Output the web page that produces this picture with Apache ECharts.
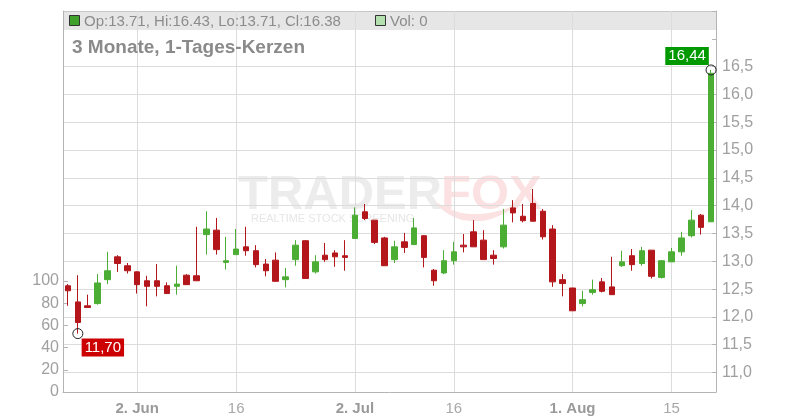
<!DOCTYPE html>
<html><head><meta charset="utf-8">
<script src="https://cdn.jsdelivr.net/npm/echarts@6/dist/echarts.min.js"></script>
<style>html,body{margin:0;padding:0;background:#fff}#c{width:800px;height:420px}</style>
</head><body><div id="c"></div>
<script>
const dates = ['2025-05-22','2025-05-23','2025-05-26','2025-05-27','2025-05-28','2025-05-29','2025-05-30',
'2025-06-02','2025-06-03','2025-06-04','2025-06-05','2025-06-06','2025-06-09','2025-06-10','2025-06-11','2025-06-12','2025-06-13',
'2025-06-16','2025-06-17','2025-06-18','2025-06-19','2025-06-20','2025-06-23','2025-06-24','2025-06-25','2025-06-26','2025-06-27','2025-06-30',
'2025-07-01','2025-07-02','2025-07-03','2025-07-04','2025-07-07','2025-07-08','2025-07-09','2025-07-10','2025-07-11','2025-07-14','2025-07-15',
'2025-07-16','2025-07-17','2025-07-18','2025-07-21','2025-07-22','2025-07-23','2025-07-24','2025-07-25','2025-07-28','2025-07-29','2025-07-30','2025-07-31',
'2025-08-01','2025-08-04','2025-08-05','2025-08-06','2025-08-07','2025-08-08','2025-08-11','2025-08-12','2025-08-13','2025-08-14','2025-08-15',
'2025-08-18','2025-08-19','2025-08-20','2025-08-21'];
const opens  = [12.56,12.27,12.20,12.24,12.67,13.08,12.92,12.81,12.65,12.65,12.56,12.55,12.75,12.74,13.48,13.56,12.98,
13.12,13.26,13.19,12.95,13.02,12.67,13.03,13.37,12.81,13.11,13.15,13.10,13.41,13.89,13.74,13.42,13.03,13.35,13.30,13.46,12.84,12.79,
13.01,13.29,13.53,13.38,13.11,13.26,13.96,13.81,14.04,13.90,13.58,12.67,12.52,12.24,12.44,12.63,12.54,12.92,13.10,12.96,13.20,12.71,
12.99,13.17,13.46,13.83,13.71];
const highs  = [12.59,12.75,12.40,12.77,13.17,13.11,12.97,12.82,12.74,12.95,12.62,12.92,12.77,13.62,13.90,13.78,13.44,
13.58,13.62,13.29,13.04,13.16,12.88,13.38,13.38,13.11,13.33,13.20,13.38,13.97,14.03,13.74,13.44,13.37,13.51,13.78,13.47,12.86,13.20,
13.35,13.49,13.74,13.56,13.20,13.94,14.10,14.03,14.30,13.94,13.65,12.77,12.52,12.47,12.67,12.70,13.08,13.19,13.22,13.26,13.20,13.02,
13.24,13.53,13.92,13.85,16.44];
const lows   = [12.20,11.70,12.16,12.22,12.59,12.81,12.78,12.42,12.19,12.37,12.42,12.40,12.58,12.65,13.12,13.12,12.85,
13.12,13.10,12.89,12.73,12.64,12.53,12.92,12.69,12.78,12.99,12.90,12.83,13.41,13.74,13.31,12.92,12.97,13.15,13.30,12.89,12.56,12.77,
12.94,13.16,13.26,13.03,12.94,13.23,13.70,13.70,13.72,13.39,12.54,12.37,12.11,12.19,12.40,12.44,12.40,12.90,12.83,12.92,12.69,12.69,
12.99,13.10,13.43,13.48,13.71];
const closes = [12.47,11.90,12.17,12.61,12.83,12.96,12.83,12.58,12.55,12.55,12.42,12.59,12.58,12.65,13.58,13.21,13.01,
13.22,13.19,12.94,12.83,12.64,12.72,13.29,12.69,12.99,13.03,13.08,13.07,13.83,13.77,13.34,12.92,13.26,13.25,13.60,13.07,12.65,13.01,
13.17,13.26,13.26,13.03,13.05,13.65,13.87,13.73,13.72,13.44,12.63,12.60,12.11,12.31,12.49,12.46,12.40,12.99,12.94,13.19,12.73,13.01,
13.17,13.42,13.74,13.61,16.38];
const volumes = [0,0,0,0,0,0,0,0,0,0,0,0,0,0,0,0,0,0,0,0,0,0,0,0,0,0,0,0,0,0,0,0,0,0,0,0,0,0,0,0,0,0,0,0,0,0,0,0,0,0,0,0,0,0,0,0,0,0,0,0,0,0,0,0,0,0];
const tickDates  = ['2025-06-02','2025-06-16','2025-07-02','2025-07-16','2025-08-01','2025-08-15'];
const tickLabels = ['2. Jun','16','2. Jul','16','1. Aug','15'];
const monthTicks = ['2025-06-02','2025-07-02','2025-08-01'];
const headerText = 'Op:13.71, Hi:16.43, Lo:13.71, Cl:16.38';
const volText = 'Vol: 0';
const titleText = '3 Monate, 1-Tages-Kerzen';

const candles = dates.map((d, i) => [opens[i], closes[i], lows[i], highs[i]]);
const FONT = 'Liberation Sans, Arial, sans-serif';
const GREEN = '#4bad33', RED = '#b3171b';
const isTick = (idx, val) => tickDates.indexOf(val) >= 0;

const chart = echarts.init(document.getElementById('c'), null, {renderer: 'canvas'});
chart.setOption({
  animation: false,
  backgroundColor: '#ffffff',
  textStyle: {fontFamily: FONT},
  grid: [
    {left: 63, right: 84, top: 11, bottom: 28, containLabel: false},
    {left: 63, right: 84, top: 281, bottom: 28, containLabel: false}
  ],
  xAxis: [
    {type: 'category', gridIndex: 0, data: dates, boundaryGap: true,
     axisLine: {show: true, onZero: false, lineStyle: {color: '#b4b4b4', width: 1}},
     axisTick: {show: false},
     axisLabel: {interval: isTick, margin: 9, fontFamily: 'Liberation Sans Narrow, Liberation Sans, sans-serif',
       formatter: v => { const k = tickDates.indexOf(v); if (k < 0) return ''; return monthTicks.indexOf(v) >= 0 ? '{b|' + tickLabels[k] + '}' : '{n|' + tickLabels[k] + '}'; },
       rich: {b: {fontSize: 15, fontWeight: 'bold', color: '#9a9a9a', fontFamily: 'Liberation Sans Narrow, Liberation Sans, sans-serif'},
              n: {fontSize: 15, color: '#a8a8a8', fontFamily: 'Liberation Sans Narrow, Liberation Sans, sans-serif'}}},
     splitLine: {show: true, interval: isTick, alignWithLabel: true, lineStyle: {color: '#dcdcdc', width: 1}}},
    {type: 'category', gridIndex: 1, data: dates, boundaryGap: true, show: false}
  ],
  yAxis: [
    {type: 'value', gridIndex: 0, position: 'right', min: 10.65, max: 17.5, splitNumber: 14, minInterval: 0.5, maxInterval: 0.5,
     axisLine: {show: true, lineStyle: {color: '#b4b4b4', width: 1}},
     axisTick: {show: true, inside: true, length: 4, lineStyle: {color: '#b4b4b4'}},
     axisLabel: {margin: 6, fontSize: 16, color: '#a0a0a0', fontFamily: FONT,
       formatter: v => (v > 10.99 && v < 16.51) ? v.toFixed(1).replace('.', ',') : ''},
     splitLine: {show: true, showMinLine: false, showMaxLine: true,
       lineStyle: {width: 1, color: ['#dcdcdc','#dcdcdc','#dcdcdc','#dcdcdc','#dcdcdc','#dcdcdc','#dcdcdc','#dcdcdc','#dcdcdc','#dcdcdc','#dcdcdc','#dcdcdc','rgba(0,0,0,0)','#c8c8c8']}}},
    {type: 'value', gridIndex: 0, position: 'left', min: 0, max: 1,
     axisLine: {show: true, onZero: false, lineStyle: {color: '#b4b4b4', width: 1}},
     axisTick: {show: false}, axisLabel: {show: false}, splitLine: {show: false}},
    {type: 'value', gridIndex: 1, position: 'left', min: 0, max: 100, interval: 20,
     axisLine: {show: false},
     axisTick: {show: true, inside: true, length: 5, lineStyle: {color: '#b4b4b4'}},
     axisLabel: {margin: 4, fontSize: 16, color: '#a0a0a0', fontFamily: FONT},
     splitLine: {show: false}}
  ],
  graphic: [
    {type: 'rect', z: -5, silent: true, shape: {x: 63, y: 11, width: 653, height: 19}, style: {fill: '#e6e6e6'}},
    {type: 'rect', z: 10, silent: true, shape: {x: 69.5, y: 15.5, width: 10, height: 10}, style: {fill: '#3fa02a', stroke: '#333', lineWidth: 1}},
    {type: 'text', z: 10, silent: true, x: 84, y: 21.5, style: {text: headerText, font: '15px ' + FONT, fill: '#8c8c8c', verticalAlign: 'middle'}},
    {type: 'rect', z: 10, silent: true, shape: {x: 375.5, y: 15.5, width: 10, height: 10}, style: {fill: '#b4dfae', stroke: '#333', lineWidth: 1}},
    {type: 'text', z: 10, silent: true, x: 390, y: 21.5, style: {text: volText, font: '15px ' + FONT, fill: '#8c8c8c', verticalAlign: 'middle'}},
    {type: 'text', z: 10, silent: true, x: 72, y: 48, style: {text: titleText, font: 'bold 19px ' + FONT, fill: '#8a8a8a', verticalAlign: 'middle'}},
    {type: 'text', z: -4, silent: true, x: 238, y: 195, style: {text: 'TRADER', font: 'bold 49px ' + FONT, fill: '#ececec', verticalAlign: 'middle'}},
    {type: 'text', z: -4, silent: true, x: 441, y: 195, style: {text: 'FOX', font: 'bold 49px ' + FONT, fill: '#fbe1e1', verticalAlign: 'middle'}},
    {type: 'polygon', z: -4, silent: true, shape: {smooth: 0.4, points: [[436,203],[452,216],[472,221],[494,218],[516,206],[494,212],[470,214],[452,210]]}, style: {fill: '#fbe1e1'}},
    {type: 'text', z: -4, silent: true, x: 251, y: 219, style: {text: 'REALTIME STOCK SCREENING', font: '11px ' + FONT, fill: '#e6e6e6', verticalAlign: 'middle'}}
  ],
  series: [
    {type: 'candlestick', xAxisIndex: 0, yAxisIndex: 0, data: candles, barWidth: 6, z: 3,
     itemStyle: {color: GREEN, color0: RED, borderColor: GREEN, borderColor0: RED, borderWidth: 1},
     markPoint: {
       symbol: 'circle', symbolSize: 10,
       itemStyle: {color: 'rgba(255,255,255,0)', borderColor: '#222', borderWidth: 1},
       label: {show: true, position: 'inside', color: '#fff', fontSize: 15, fontFamily: FONT, padding: [2, 3, 1, 3],
         formatter: p => Number(p.value).toFixed(2).replace('.', ',')},
       data: [
         {type: 'min', valueDim: 'lowest', label: {offset: [25, 14], backgroundColor: '#cc0000'}},
         {type: 'max', valueDim: 'highest', label: {offset: [-24, -14], backgroundColor: '#009a00'}}
       ]
     }},
    {type: 'bar', xAxisIndex: 1, yAxisIndex: 2, data: volumes, itemStyle: {color: '#b4dfae'}}
  ]
});
</script>
</body></html>
